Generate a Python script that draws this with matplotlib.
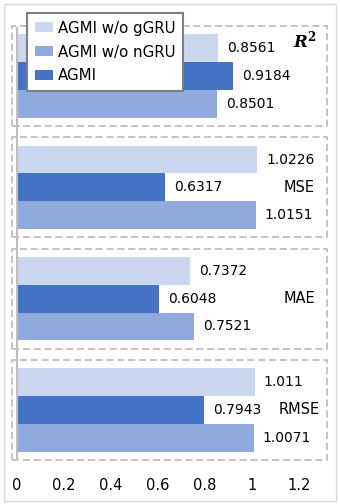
import numpy as np
import matplotlib
matplotlib.use("Agg")
import matplotlib.pyplot as plt
from matplotlib.patches import Rectangle

# data
metrics = ["R2", "MSE", "MAE", "RMSE"]          # top to bottom
wo_ggru = [0.8561, 1.0226, 0.7372, 1.011]
agmi    = [0.9184, 0.6317, 0.6048, 0.7943]
wo_ngru = [0.8501, 1.0151, 0.7521, 1.0071]
val_text_gg = ["0.8561", "1.0226", "0.7372", "1.011"]
val_text_ag = ["0.9184", "0.6317", "0.6048", "0.7943"]
val_text_ng = ["0.8501", "1.0151", "0.7521", "1.0071"]
xticks = [0, 0.2, 0.4, 0.6, 0.8, 1.0, 1.2]
xtick_labels = ["0", "0.2", "0.4", "0.6", "0.8", "1", "1.2"]

LIGHT = "#CBD7EF"
MED = "#8FAADC"
DARK = "#4472C4"
GREY = "#BFBFBF"
INK = "#000000"

plt.rcParams.update({"font.family": "DejaVu Sans", "font.size": 10,
                     "mathtext.fontset": "dejavuserif"})

W, H = 340, 504
fig = plt.figure(figsize=(W / 100, H / 100), dpi=100)
ax = fig.add_axes([17 / W, 1 - 471 / H, 310 / W, (471 - 15) / H])

n = len(metrics)
y = np.arange(n)[::-1].astype(float)   # R2 at top
bh = 0.25

b1 = ax.barh(y + bh, wo_ggru, height=bh, color=LIGHT)
b2 = ax.barh(y, agmi, height=bh, color=DARK)
b3 = ax.barh(y - bh, wo_ngru, height=bh, color=MED)

px = 1 / 235  # data units per pixel in x
for bars, txts in ((b1, val_text_gg), (b2, val_text_ag), (b3, val_text_ng)):
    for b, t in zip(bars, txts):
        ax.text(b.get_width() + 9 * px, b.get_y() + b.get_height() / 2, t,
                va="center", ha="left", fontsize=10, color=INK)

# metric names on the right
for yi, m in zip(y, metrics):
    if m == "R2":
        ax.text(1.226, yi + 0.32, r"$\mathbfit{R}^{\mathbf{2}}$", ha="center",
                va="center", fontsize=12, color=INK)
    else:
        ax.text(1.2, yi, m, ha="center", va="center", fontsize=10.5, color=INK)

# dashed group boxes
for yi in y:
    ax.add_patch(Rectangle((-5 * px, yi - 0.45), 1.34, 0.9, fill=False,
                           edgecolor=GREY, linestyle=(0, (4, 2)), linewidth=1.3,
                           clip_on=False, zorder=0))

ax.set_xlim(0, 310 * px)
ax.set_ylim(-0.55, 3.55)
ax.set_yticks([])
ax.set_xticks(xticks)
ax.set_xticklabels(xtick_labels, fontsize=10.5)
ax.tick_params(axis="x", length=0, pad=5)
for s in ["top", "right", "bottom"]:
    ax.spines[s].set_visible(False)
ax.spines["left"].set_color(GREY)
ax.spines["left"].set_linewidth(1.5)
ax.spines["left"].set_bounds(-0.43, 3.43)

leg = fig.legend([b1[0], b3[0], b2[0]],
                 ["AGMI w/o gGRU", "AGMI w/o nGRU", "AGMI"],
                 loc="upper left", bbox_to_anchor=(27 / W, 1 - 13 / H),
                 borderaxespad=0, fancybox=False, framealpha=1,
                 edgecolor="#7F7F7F", handlelength=1.2, handleheight=0.6,
                 handletextpad=0.35, labelspacing=0.6, borderpad=0.5, fontsize=10.8)
leg.get_frame().set_linewidth(1.5)

# outer border
fig.patches.append(Rectangle((4 / W, 3 / H), 332 / W, 497 / H, fill=False,
                             edgecolor="#D9D9D9", linewidth=1,
                             transform=fig.transFigure))

fig.savefig("out.png", dpi=100)
